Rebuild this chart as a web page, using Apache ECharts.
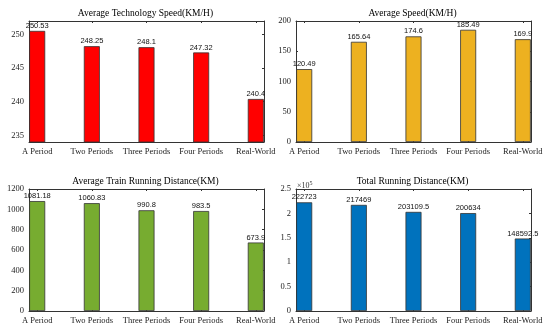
<!DOCTYPE html>
<html>
<head>
<meta charset="utf-8">
<script src="https://cdn.jsdelivr.net/npm/echarts@6/dist/echarts.min.js"></script>
<style>html,body{margin:0;padding:0;background:#fff;}#c{width:550px;height:335px;}</style>
</head>
<body>
<div id="c"></div>
<script>
const categories = ['A Period', 'Two Periods', 'Three Periods', 'Four Periods', 'Real-World'];
const techSpeed = [250.53, 248.25, 248.1, 247.32, 240.4];
const avgSpeed = [120.49, 165.64, 174.6, 185.49, 169.9];
const avgDistance = [1081.18, 1060.83, 990.8, 983.5, 673.9];
const totalDistance = [222723, 217469, 203109.5, 200634, 148592.5];
const titles = ['Average Technology Speed(KM/H)', 'Average Speed(KM/H)', 'Average Train Running Distance(KM)', 'Total Running Distance(KM)'];
const yTicks1 = [235, 240, 245, 250];
const yTicks2 = [0, 50, 100, 150, 200];
const yTicks3 = [0, 200, 400, 600, 800, 1000, 1200];
const yTicks4 = [0, 50000, 100000, 150000, 200000, 250000];
const yRange = [[234, 252], [0, 200], [0, 1200], [0, 250000]];
const colors = ['#ff0000', '#edb120', '#77ac30', '#0072bd'];

const seriesValues = [techSpeed, avgSpeed, avgDistance, totalDistance];
const yTickSets = [yTicks1, yTicks2, yTicks3, yTicks4];
const catPos = categories.map((c, i) => i + 1);

const grids = [
  {left: 29, top: 21, width: 235, height: 121},
  {left: 296, top: 21, width: 235, height: 121},
  {left: 29, top: 189, width: 235, height: 122},
  {left: 296, top: 189, width: 235, height: 122}
];
const titleTops = [8, 8, 176, 176];

const axisColor = '#333';
const serif = 'Liberation Serif';
const option = {
  animation: false,
  backgroundColor: '#fff',
  title: [], grid: grids, xAxis: [], yAxis: [], series: []
};

grids.forEach((g, i) => {
  option.title.push({
    text: titles[i], left: g.left + g.width / 2 - 1, top: titleTops[i], textAlign: 'center', padding: 0,
    textStyle: {fontFamily: serif, fontSize: 9.5, fontWeight: 'normal', color: '#000'}
  });
  const xBase = {
    type: 'value', gridIndex: i, min: 0.85, max: 5.15,
    splitLine: {show: false},
    axisLine: {show: true, onZero: false, lineStyle: {color: axisColor, width: 1}},
    axisTick: {show: true, inside: true, length: 2, customValues: catPos, lineStyle: {color: axisColor}}
  };
  option.xAxis.push(Object.assign({}, xBase, {
    position: 'bottom',
    axisLabel: {show: true, customValues: catPos, margin: 5, fontFamily: serif, fontSize: 8.5, color: '#222',
      formatter: v => categories[Math.round(v) - 1] || ''}
  }));
  option.xAxis.push(Object.assign({}, xBase, {position: 'top', axisLabel: {show: false}}));
  const yBase = {
    type: 'value', gridIndex: i, min: yRange[i][0], max: yRange[i][1],
    splitLine: {show: false},
    axisLine: {show: true, onZero: false, lineStyle: {color: axisColor, width: 1}},
    axisTick: {show: true, inside: true, length: 2, customValues: yTickSets[i], lineStyle: {color: axisColor}}
  };
  option.yAxis.push(Object.assign({}, yBase, {
    position: 'left',
    axisLabel: {show: true, customValues: yTickSets[i], margin: 5, fontFamily: serif, fontSize: 8.5, color: '#222',
      formatter: v => i === 3 ? String(v / 100000) : String(v)}
  }));
  option.yAxis.push(Object.assign({}, yBase, {position: 'right', axisLabel: {show: false}}));
  option.series.push({
    type: 'bar', xAxisIndex: 2 * i, yAxisIndex: 2 * i,
    barWidth: 16, clip: true,
    data: seriesValues[i].map((v, k) => [catPos[k], v]),
    itemStyle: {color: colors[i], borderColor: '#333', borderWidth: 0.8},
    label: {show: true, position: 'top', distance: 1, fontFamily: 'Liberation Sans', fontSize: 7.5, color: '#111',
      formatter: p => String(p.value[1])}
  });
});

option.title.push({
  text: '×10{s|5}', left: 297, top: 180, padding: 0,
  textStyle: {fontFamily: serif, fontSize: 8, fontWeight: 'normal', color: '#333',
    rich: {s: {fontFamily: serif, fontSize: 6, verticalAlign: 'top', color: '#333', padding: [0, 0, 5, 0]}}}
});

const chart = echarts.init(document.getElementById('c'), null, {renderer: 'canvas'});
chart.setOption(option);
</script>
</body>
</html>
